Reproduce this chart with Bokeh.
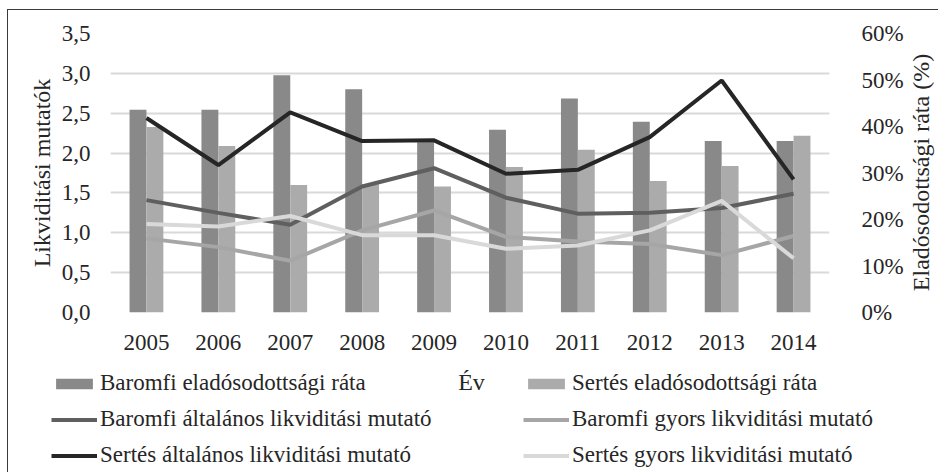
import math
from bokeh.plotting import figure
from bokeh.layouts import column, row
from bokeh.models import (FactorRange, Range1d, LinearAxis, FixedTicker, Legend, LegendItem, Label)
from bokeh.transform import dodge
from bokeh.embed import file_html
from bokeh.resources import INLINE

years = ["2005", "2006", "2007", "2008", "2009", "2010", "2011", "2012", "2013", "2014"]
baromfi_rata = [43.6, 43.6, 51.0, 48.0, 36.6, 39.3, 46.0, 41.0, 36.9, 36.9]
sertes_rata = [39.9, 35.8, 27.4, 27.6, 27.1, 31.3, 35.0, 28.3, 31.5, 38.0]
baromfi_alt = [1.41, 1.25, 1.10, 1.58, 1.81, 1.44, 1.24, 1.25, 1.31, 1.49]
baromfi_gyors = [0.93, 0.82, 0.65, 1.03, 1.28, 0.95, 0.89, 0.86, 0.72, 0.96]
sertes_alt = [2.44, 1.85, 2.51, 2.15, 2.16, 1.74, 1.79, 2.20, 2.91, 1.67]
sertes_gyors = [1.11, 1.08, 1.21, 0.97, 0.97, 0.80, 0.84, 1.03, 1.40, 0.68]

left_ticks = [0.0, 0.5, 1.0, 1.5, 2.0, 2.5, 3.0, 3.5]
left_tick_labels = ["0,0", "0,5", "1,0", "1,5", "2,0", "2,5", "3,0", "3,5"]
right_ticks = [0, 10, 20, 30, 40, 50, 60]
right_tick_labels = ["0%", "10%", "20%", "30%", "40%", "50%", "60%"]

series_names = ["Baromfi eladósodottsági ráta", "Sertés eladósodottsági ráta",
                "Baromfi általános likviditási mutató", "Baromfi gyors likviditási mutató",
                "Sertés általános likviditási mutató", "Sertés gyors likviditási mutató"]
x_title = "Év"
y_title = "Likviditási mutatók"
y2_title = "Eladósodottsági ráta (%)"

FONT = "Liberation Serif"
FS = "23px"
FS_T = "24px"
TXT = "#262626"
C_BAR1, C_BAR2 = "#898989", "#ababab"
C_BA, C_BG, C_SA, C_SG = "#5f5f5f", "#a6a6a6", "#262626", "#d9d9d9"

src = dict(years=years, baromfi_rata=baromfi_rata, sertes_rata=sertes_rata,
           baromfi_alt=baromfi_alt, baromfi_gyors=baromfi_gyors,
           sertes_alt=sertes_alt, sertes_gyors=sertes_gyors)
bw = 0.235

def add_series(fig, visible=True):
    rr = []
    rr.append(fig.vbar(x=dodge("years", -bw / 2, range=fig.x_range), top="baromfi_rata", width=bw,
                       source=src, y_range_name="pct", fill_color=C_BAR1, line_color=None,
                       visible=visible))
    rr.append(fig.vbar(x=dodge("years", bw / 2, range=fig.x_range), top="sertes_rata", width=bw,
                       source=src, y_range_name="pct", fill_color=C_BAR2, line_color=None,
                       visible=visible))
    rr.append(fig.line(x="years", y="baromfi_alt", source=src, line_color=C_BA, line_width=4,
                       visible=visible))
    rr.append(fig.line(x="years", y="baromfi_gyors", source=src, line_color=C_BG, line_width=4,
                       visible=visible))
    rr.append(fig.line(x="years", y="sertes_alt", source=src, line_color=C_SA, line_width=4,
                       visible=visible))
    rr.append(fig.line(x="years", y="sertes_gyors", source=src, line_color=C_SG, line_width=4,
                       visible=visible))
    return rr

# ---------------- main chart ----------------
p = figure(x_range=FactorRange(*years), y_range=Range1d(0, 3.5),
           width=898, height=352, output_backend="svg", toolbar_location=None,
           min_border_left=102, min_border_right=74, min_border_top=23, min_border_bottom=50)
p.frame_align = False
p.outline_line_color = None
p.extra_y_ranges = {"pct": Range1d(0, 60)}
add_series(p)

p.xgrid.grid_line_color = None
p.ygrid.ticker = FixedTicker(ticks=left_ticks)
p.ygrid.grid_line_color = "#d9d9d9"
p.ygrid.grid_line_width = 2

def style_axis(ax, standoff):
    ax.axis_line_color = None
    ax.major_tick_line_color = None
    ax.minor_tick_line_color = None
    ax.major_label_text_font = FONT
    ax.major_label_text_font_size = FS
    ax.major_label_text_color = TXT
    ax.axis_label_text_font = FONT
    ax.axis_label_text_font_size = FS_T
    ax.axis_label_text_font_style = "normal"
    ax.axis_label_text_color = TXT
    ax.major_label_standoff = standoff

yl = p.yaxis[0]
yl.ticker = FixedTicker(ticks=left_ticks)
yl.major_label_overrides = dict(zip(left_ticks, left_tick_labels))
yl.axis_label = y_title
style_axis(yl, 14)
yl.axis_label_standoff = 4

yr = LinearAxis(y_range_name="pct", ticker=FixedTicker(ticks=right_ticks))
yr.major_label_overrides = dict(zip(right_ticks, right_tick_labels))
style_axis(yr, 26)
p.add_layout(yr, "right")

xa = p.xaxis[0]
style_axis(xa, 16)

# ---------------- legend strip ----------------
q = figure(x_range=FactorRange(*years), y_range=Range1d(0, 3.5),
           width=898, height=110, output_backend="svg", toolbar_location=None,
           x_axis_location=None, y_axis_location=None,
           min_border_left=0, min_border_right=0, min_border_top=0, min_border_bottom=0)
q.frame_align = False
q.outline_line_color = None
q.grid.visible = False
q.extra_y_ranges = {"pct": Range1d(0, 60)}
k = add_series(q, visible=False)

def make_legend(items, x, y):
    return Legend(items=items, location=(x, y), orientation="vertical",
                  glyph_width=46, glyph_height=13, label_standoff=3, spacing=10,
                  padding=0, margin=0, border_line_color=None, background_fill_alpha=0,
                  inactive_fill_alpha=0,
                  label_text_font=FONT, label_text_font_size=FS, label_text_color=TXT,
                  label_height=26)

leg1 = make_legend([LegendItem(label=series_names[i], renderers=[k[i]]) for i in (0, 2, 4)], 43, 4)
leg2 = make_legend([LegendItem(label=series_names[i], renderers=[k[i]]) for i in (1, 3, 5)], 515, 4)
q.add_layout(leg1, "center")
q.add_layout(leg2, "center")
q.add_layout(Label(x=463, y=91, x_units="screen", y_units="screen", text=x_title,
                   text_font=FONT, text_font_size=FS_T, text_color=TXT,
                   text_align="center", text_baseline="middle"))

# ---------------- right axis title strip ----------------
r = figure(x_range=Range1d(0, 1), y_range=Range1d(0, 1), width=32, height=462,
           output_backend="svg", toolbar_location=None,
           x_axis_location=None, y_axis_location=None,
           min_border_left=0, min_border_right=0, min_border_top=0, min_border_bottom=0)
r.frame_align = False
r.outline_line_color = None
r.grid.visible = False
r.add_layout(Label(x=14, y=300, x_units="screen", y_units="screen", text=y2_title,
                   angle=math.pi / 2, text_font=FONT, text_font_size=FS_T, text_color=TXT,
                   text_align="center", text_baseline="middle"))

layout = row(column(p, q, spacing=0), r, spacing=0)
layout.styles = {"margin-left": "7px", "margin-top": "9px",
                 "border-top": "1px solid #3a3a3a", "border-left": "1px solid #3a3a3a"}

html = file_html(layout, INLINE)
html = html.replace("<head>", "<head><style>html,body{margin:0;padding:0;}</style>", 1)
open("out.html", "w").write(html)
